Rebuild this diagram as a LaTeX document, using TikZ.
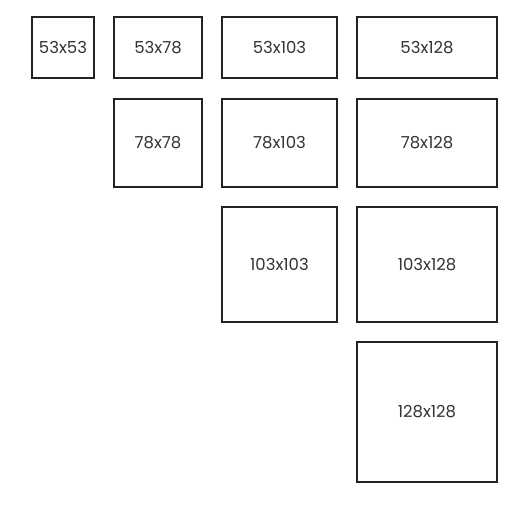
\documentclass[tikz,border=0pt]{standalone}
\usepackage{fontspec}
\setmainfont{Poppins}
\definecolor{boxline}{HTML}{222222}
\definecolor{boxtext}{HTML}{333333}
\begin{document}
\begin{tikzpicture}[x=1pt,y=-1pt,
  cell/.style={draw=boxline,line width=1.8pt,fill=white,text=boxtext,
    font=\fontsize{16.5}{19}\selectfont}]
\useasboundingbox (0,0) rectangle (513,507);
\fill[white] (0,0) rectangle (513,507);
% columns: [32,94],[114,202],[222,337],[357,497]
% rows: [17,78],[99,187],[207,322],[342,482]
\draw[cell] (32,17) rectangle node (c11) {53x53} (94,78);
\draw[cell] (114,17) rectangle node (c12) {53x78} (202,78);
\draw[cell] (222,17) rectangle node (c13) {53x103} (337,78);
\draw[cell] (357,17) rectangle node (c14) {53x128} (497,78);
\draw[cell] (114,99) rectangle node (c22) {78x78} (202,187);
\draw[cell] (222,99) rectangle node (c23) {78x103} (337,187);
\draw[cell] (357,99) rectangle node (c24) {78x128} (497,187);
\draw[cell] (222,207) rectangle node (c33) {103x103} (337,322);
\draw[cell] (357,207) rectangle node (c34) {103x128} (497,322);
\draw[cell] (357,342) rectangle node (c44) {128x128} (497,482);
\end{tikzpicture}
\end{document}
